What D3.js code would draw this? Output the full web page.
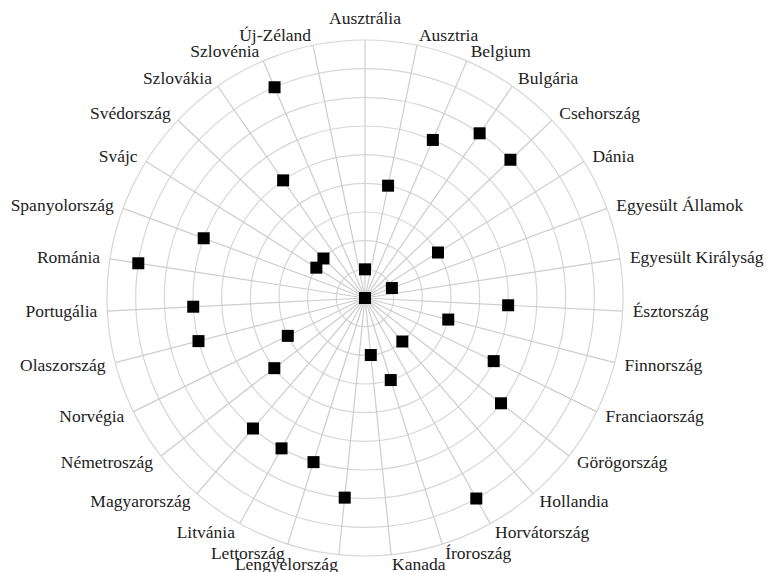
<!DOCTYPE html>
<html>
<head>
<meta charset="utf-8">
<script src="https://cdn.jsdelivr.net/npm/d3@7"></script>
<style>
  html, body { margin: 0; padding: 0; background: #fff; }
  svg { display: block; }
  .lbl { font-family: "Liberation Serif", "Times New Roman", serif; font-size: 17.5px; fill: #222; }
</style>
</head>
<body>
<svg id="chart" width="769" height="572"></svg>
<script>
// Countries, clockwise from the top
const categories = [
  "Ausztrália", "Ausztria", "Belgium", "Bulgária", "Csehország", "Dánia",
  "Egyesült Államok", "Egyesült Királyság", "Észtország", "Finnország",
  "Franciaország", "Görögország", "Hollandia", "Horvátország", "Íroroszág",
  "Kanada", "Lengyelország", "Lettország", "Litvánia", "Magyarország",
  "Németroszág", "Norvégia", "Olaszország", "Portugália", "Románia",
  "Spanyolország", "Svájc", "Svédország", "Szlovákia", "Szlovénia", "Új-Zéland"
];

// One value per country
const values = [
  1, 4, 6, 7, 7, 3,
  1, 0, 5, 3,
  5, 6, 2, 8, 3,
  2, 7, 6, 6, 6,
  4, 3, 6, 6, 8,
  6, 2, 2, 5, 8, 0
];

// Concentric grid rings
const ringTicks = [1, 2, 3, 4, 5, 6, 7, 8, 9];

const svg = d3.select("#chart");
const cx = 365, cy = 298, R = 258;
const n = categories.length;

const g = svg.append("g").attr("transform", `translate(${cx},${cy})`);

const rScale = d3.scaleLinear().domain([0, d3.max(ringTicks)]).range([0, R]);
const angle = d3.scaleLinear().domain([0, n]).range([0, 2 * Math.PI]);

// rings
g.append("g").selectAll("circle")
  .data(ringTicks)
  .join("circle")
  .attr("r", d => rScale(d))
  .attr("fill", "none")
  .attr("stroke", "#d6d6d6")
  .attr("stroke-width", 1.2);

// spokes
g.append("g").selectAll("line")
  .data(categories)
  .join("line")
  .attr("x1", 0).attr("y1", 0)
  .attr("x2", (d, i) => d3.pointRadial(angle(i), R)[0])
  .attr("y2", (d, i) => d3.pointRadial(angle(i), R)[1])
  .attr("stroke", "#cdcdcd")
  .attr("stroke-width", 1.2);

// markers
const square = d3.symbol(d3.symbolSquare, 144);
g.append("g").selectAll("path")
  .data(values)
  .join("path")
  .attr("d", square)
  .attr("transform", (d, i) => {
    const [x, y] = d3.pointRadial(angle(i), rScale(d));
    return `translate(${x},${y})`;
  })
  .attr("fill", "#000");

// category labels
g.append("g").selectAll("text")
  .data(categories)
  .join("text")
  .attr("class", "lbl")
  .each(function (d, i) {
    const a = angle(i);
    const s = Math.sin(a);
    const t = d3.select(this);
    if (Math.abs(s) < 0.01) {
      t.attr("x", 0).attr("y", -(R + 16)).attr("text-anchor", "middle");
    } else {
      const [x, y] = d3.pointRadial(a, R + 10);
      t.attr("x", x).attr("y", y)
        .attr("dy", "0.32em")
        .attr("text-anchor", s > 0 ? "start" : "end");
    }
  })
  .text(d => d);
</script>
</body>
</html>
